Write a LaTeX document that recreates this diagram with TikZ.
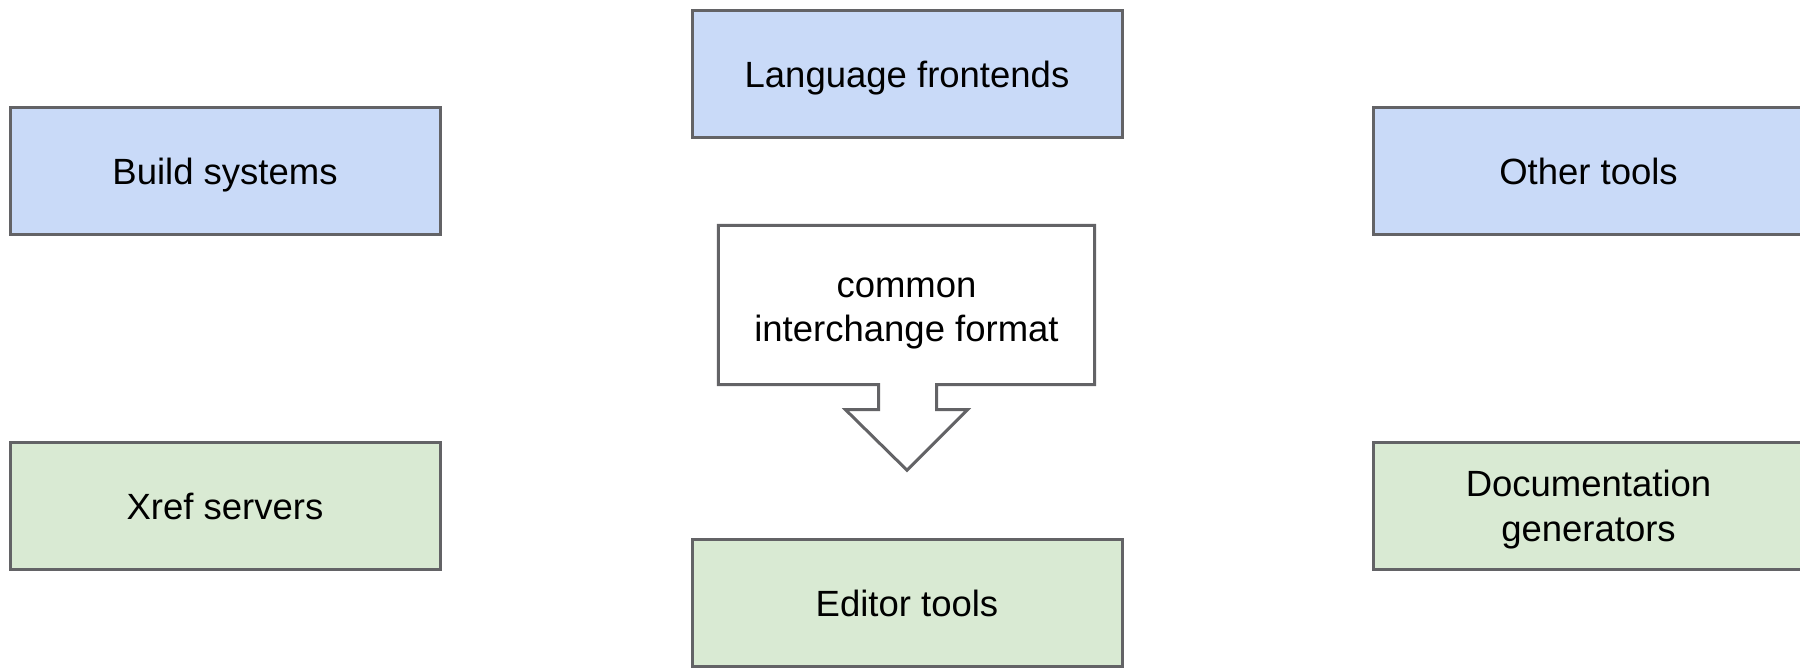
\documentclass[tikz,border=0pt]{standalone}
\usepackage{fontspec}
\setmainfont{Liberation Sans}
\definecolor{boxblue}{HTML}{C9DAF8}
\definecolor{boxgreen}{HTML}{D9EAD3}
\definecolor{edge}{HTML}{636366}
\begin{document}
\begin{tikzpicture}[x=1pt,y=-1pt,
  label text/.style={align=center, text depth=0pt, text=black,
    font=\fontsize{36.5}{44.5}\selectfont},
  tool/.style={label text, draw=edge, line width=3pt, minimum width=430pt,
    minimum height=127pt, inner sep=0pt},
  producer/.style={tool, fill=boxblue},
  consumer/.style={tool, fill=boxgreen}]
\useasboundingbox (0,0) rectangle (1800,667);
% producers
\node[producer] (lang)  at (907,74)     {Language frontends};
\node[producer] (build) at (225,171)    {Build systems};
\node[producer] (other) at (1588.5,171) {Other tools};
% consumers
\node[consumer] (xref)  at (225,506)    {Xref servers};
\node[consumer] (doc)   at (1588.5,506) {Documentation\\generators};
\node[consumer] (edit)  at (907,603)    {Editor tools};
% interchange format callout with downward arrow
\coordinate (cifc) at (906.5,305);
\node[minimum width=376pt, minimum height=159pt, inner sep=0pt] (cif) at (cifc) {};
\draw[edge, line width=3pt, fill=white, line join=miter]
  (cif.north west) -- (cif.north east) -- (cif.south east)
  -- ([xshift=30pt]cif.south) -- ([xshift=30pt,yshift=-25pt]cif.south)
  -- ([xshift=61pt,yshift=-25pt]cif.south) -- ([xshift=0.5pt,yshift=-85.5pt]cif.south)
  -- ([xshift=-61pt,yshift=-25pt]cif.south) -- ([xshift=-28pt,yshift=-25pt]cif.south)
  -- ([xshift=-28pt]cif.south) -- (cif.south west) -- cycle;
\node[label text] (ciftext) at ([yshift=-4.5pt]cifc) {common\\interchange format};
\end{tikzpicture}
\end{document}
